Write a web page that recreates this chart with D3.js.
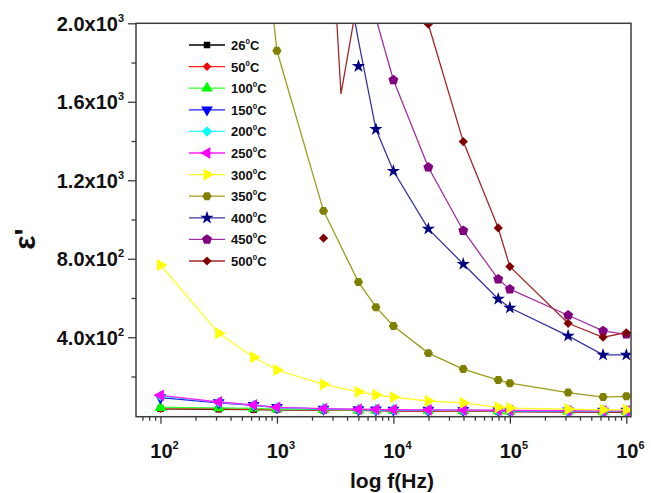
<!DOCTYPE html>
<html>
<head>
<meta charset="utf-8">
<script src="https://cdn.jsdelivr.net/npm/d3@7"></script>
<style>
  html, body { margin: 0; padding: 0; background: #fff; }
  svg { display: block; font-family: "Liberation Sans", Arial, sans-serif; }
</style>
</head>
<body>
<svg id="chart" width="651" height="493"></svg>
<script>
// Measurement frequencies (Hz)
const freqHz = [100, 316, 631, 1000, 2512, 5012, 7079, 10000, 19953, 39811, 79433, 100000, 316228, 630957, 1000000];

// Real permittivity ε' per temperature (null = outside the plotted range)
const eps26  = [35, 33, 31, 30, 28, 27, 26, 25, 24, 23, 22, 21, 20, 19, 19];
const eps50  = [37, 35, 33, 31, 29, 27, 26, 25, 24, 23, 22, 21, 20, 20, 20];
const eps100 = [42, 40, 37, 34, 31, 29, 28, 27, 27, 26, 25, 24, 23, 22, 22];
const eps150 = [92, 66, 53, 42, 34, 31, 30, 29, 28, 27, 26, 25, 24, 23, 23];
const eps200 = [100, 69, 54, 42, 35, 32, 31, 30, 29, 28, 27, 26, 25, 24, 24];
const eps250 = [104, 70, 55, 43, 36, 33, 32, 31, 30, 29, 28, 27, 26, 25, 25];
const eps300 = [768, 420, 298, 233, 160, 122, 106, 95, 75, 65, 43, 39, 33, 30, 30];
const eps350 = [null, null, 2950, 1860, 1044, 681, 553, 457, 319, 238, 182, 166, 118, 95, 99];
const eps400 = [null, null, null, null, null, 1781, 1460, 1247, 952, 773, 595, 550, 407, 310, 310];
const eps450 = [null, null, null, null, null, null, 2025, 1711, 1266, 943, 696, 645, 512, 432, 415];
const eps500 = [null, null, null, null, 905, null, null, null, 1995, 1397, 957, 760, 471, 400, 423];

// Connecting traces where the drawn line departs from the symbols
const trace400 = [null, null, null, null, 2900, 1910, 1460, 1247, 952, 773, 595, 550, 407, 310, 310];
const trace500Hz = [2512, 3548, 5012, 10000, 19953, 39811, 79433, 100000, 316228, 630957, 1000000];
const trace500   = [3180, 1640, 2150, 3000, 1995, 1397, 957, 760, 471, 400, 423];

const seriesNames  = ["26", "50", "100", "150", "200", "250", "300", "350", "400", "450", "500"];
const seriesColors = ["#000000", "#ff0000", "#00ff00", "#0000ff", "#00ffff", "#ff00ff", "#ffff00", "#808000", "#000080", "#800080", "#800000"];
const lineColors   = ["#000000", "#ff2020", "#33ff33", "#2020ff", "#22ffff", "#ff22ff", "#ffff22", "#9c9c1c", "#3535a0", "#a030a0", "#a02828"];

const xTickValues = [1e2, 1e3, 1e4, 1e5, 1e6];
const xTickExp    = ["2", "3", "4", "5", "6"];
const yTickValues = [400, 800, 1200, 1600, 2000];
const yTickMant   = ["4.0", "8.0", "1.2", "1.6", "2.0"];
const yTickExp    = ["2", "2", "3", "3", "3"];
const yMinorValues = [200, 600, 1000, 1400, 1800];

// --- symbols -------------------------------------------------------------
function polygonSymbol(n, startAngle, areaFactor) {
  return {
    draw(ctx, size) {
      const r = Math.sqrt(size / areaFactor);
      for (let i = 0; i < n; i++) {
        const a = startAngle + i * 2 * Math.PI / n;
        const px = r * Math.cos(a), py = r * Math.sin(a);
        if (i === 0) ctx.moveTo(px, py); else ctx.lineTo(px, py);
      }
      ctx.closePath();
    }
  };
}
const pentagon = polygonSymbol(5, -Math.PI / 2, 2.378);
const hexagon  = polygonSymbol(6, 0, 2.598);
const rhombus  = polygonSymbol(4, -Math.PI / 2, 2.0);

// [type, area, rotation]
const symbolSpec = [
  [d3.symbolSquare, 42, 0],
  [rhombus, 40, 0],
  [d3.symbolTriangle, 60, 0],
  [d3.symbolTriangle, 60, 180],
  [rhombus, 55, 0],
  [d3.symbolTriangle, 60, -90],
  [d3.symbolTriangle, 65, 90],
  [hexagon, 55, 0],
  [d3.symbolStar, 55, 0],
  [pentagon, 65, 0],
  [rhombus, 42, 0]
];

// --- layout --------------------------------------------------------------
const svg = d3.select("#chart");
const L = 136, R = 631, T = 23.3, B = 416.7;

const x = d3.scaleLog().domain([Math.pow(10, 1.79), Math.pow(10, 6.04)]).range([L, R]);
const y = d3.scaleLinear().domain([-5, 2000]).range([B, T]);

svg.append("defs").append("clipPath").attr("id", "plotClip")
  .append("rect").attr("x", L).attr("y", T).attr("width", R - L).attr("height", B - T);

const plot = svg.append("g").attr("clip-path", "url(#plotClip)");

const allValues = [eps26, eps50, eps100, eps150, eps200, eps250, eps300, eps350, eps400, eps450, eps500];
const allTraces = allValues.slice();
allTraces[8] = trace400;

const lineGen = d3.line()
  .defined(d => d[1] != null)
  .x(d => x(d[0]))
  .y(d => y(d[1]));

allValues.forEach((vals, i) => {
  const g = plot.append("g");
  let pts;
  if (i === 10) pts = trace500Hz.map((f, k) => [f, trace500[k]]);
  else pts = freqHz.map((f, k) => [f, allTraces[i][k]]);
  g.append("path")
    .attr("d", lineGen(pts))
    .attr("fill", "none")
    .attr("stroke", lineColors[i])
    .attr("stroke-width", 1.3);
  const [type, size, rot] = symbolSpec[i];
  const sym = d3.symbol().type(type).size(size);
  g.selectAll("path.m")
    .data(freqHz.map((f, k) => [f, vals[k]]).filter(d => d[1] != null))
    .join("path")
    .attr("class", "m")
    .attr("d", sym)
    .attr("transform", d => `translate(${x(d[0])},${y(d[1])}) rotate(${rot})`)
    .attr("fill", seriesColors[i]);
});

// --- frame & axes --------------------------------------------------------
const axisColor = "#3c3c3c";
svg.append("rect").attr("x", L).attr("y", T).attr("width", R - L).attr("height", B - T)
  .attr("fill", "none").attr("stroke", axisColor).attr("stroke-width", 1.5);

// x ticks
const xMinor = [];
for (let e = 1; e <= 6; e++) for (let m = 2; m <= 9; m++) {
  const v = m * Math.pow(10, e);
  if (v > x.domain()[0] && v < x.domain()[1]) xMinor.push(v);
}
const xAxis = svg.append("g").attr("transform", `translate(0,${B})`);
xAxis.call(d3.axisBottom(x).tickValues(xMinor).tickSize(4).tickFormat(""));
xAxis.append("g").call(d3.axisBottom(x).tickValues(xTickValues).tickSize(7).tickFormat(""));
xAxis.selectAll(".domain").remove();
xAxis.selectAll("line").attr("stroke", axisColor).attr("stroke-width", 1.3);

const xLab = svg.append("g");
xTickValues.forEach((v, i) => {
  const t = xLab.append("text")
    .attr("x", x(v) + 4).attr("y", 458)
    .attr("text-anchor", "middle")
    .attr("font-size", 20).attr("font-weight", "bold").attr("fill", "#111");
  t.append("tspan").text("10");
  t.append("tspan").attr("dy", -9).attr("font-size", 11).text(xTickExp[i]);
});

// y ticks
const yAxis = svg.append("g").attr("transform", `translate(${L},0)`);
yAxis.call(d3.axisLeft(y).tickValues(yMinorValues).tickSize(4.5).tickFormat(""));
yAxis.append("g").call(d3.axisLeft(y).tickValues(yTickValues).tickSize(8).tickFormat(""));
yAxis.selectAll(".domain").remove();
yAxis.selectAll("line").attr("stroke", axisColor).attr("stroke-width", 1.3);

const yLab = svg.append("g");
yTickValues.forEach((v, i) => {
  const t = yLab.append("text")
    .attr("x", 124).attr("y", y(v) + 7.5)
    .attr("text-anchor", "end")
    .attr("font-size", 20).attr("font-weight", "bold").attr("fill", "#111");
  t.append("tspan").text(yTickMant[i] + "x10");
  t.append("tspan").attr("dy", -9).attr("font-size", 11).text(yTickExp[i]);
});

// axis titles
svg.append("text")
  .attr("x", 392).attr("y", 488)
  .attr("text-anchor", "middle")
  .attr("font-size", 21).attr("font-weight", "bold").attr("fill", "#111")
  .text("log f(Hz)");

svg.append("text")
  .attr("transform", "translate(35,239) rotate(-90)")
  .attr("text-anchor", "middle")
  .attr("font-size", 30).attr("font-weight", "bold").attr("fill", "#111")
  .text("ε'");

// --- legend --------------------------------------------------------------
const legend = svg.append("g");
seriesNames.forEach((name, i) => {
  const ly = 45 + i * 21.6;
  const row = legend.append("g");
  row.append("line").attr("x1", 189).attr("x2", 225).attr("y1", ly).attr("y2", ly)
    .attr("stroke", lineColors[i]).attr("stroke-width", 1.3);
  const [type, size, rot] = symbolSpec[i];
  row.append("path")
    .attr("d", d3.symbol().type(type).size(size)())
    .attr("transform", `translate(207,${ly}) rotate(${rot})`)
    .attr("fill", seriesColors[i]);
  const t = row.append("text")
    .attr("x", 231).attr("y", ly + 5)
    .attr("font-size", 13).attr("font-weight", "bold").attr("fill", "#111");
  t.append("tspan").text(name);
  t.append("tspan").attr("dy", -6).attr("font-size", 8).text("0");
  t.append("tspan").attr("dy", 6).text("C");
});
</script>
</body>
</html>
